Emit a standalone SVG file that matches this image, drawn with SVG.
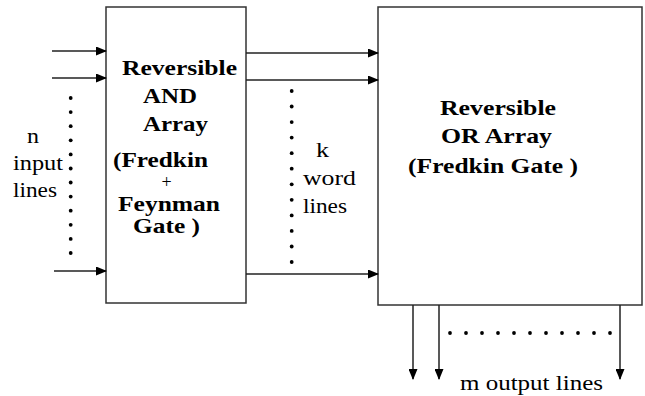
<svg xmlns="http://www.w3.org/2000/svg" width="645" height="396" viewBox="0 0 645 396">
<style>
.box{fill:#fff;stroke:#333;stroke-width:1.5}
.ln{stroke:#222;stroke-width:1.5;fill:none;marker-end:url(#ah)}
.dot{fill:#000}
</style>
<defs>
<marker id="ah" markerUnits="userSpaceOnUse" markerWidth="11" markerHeight="9" refX="10" refY="4.5" orient="auto">
<path d="M0,0 L11,4.5 L0,9 z" fill="#000"/>
</marker>
<circle id="d" r="1.9" class="dot"/>
</defs>
<rect width="645" height="396" fill="#fff"/>
<g id="and-array" font-family="Liberation Serif, DejaVu Serif, serif" font-size="22" fill="#000">
<rect class="box" x="106" y="7" width="140" height="296"/>
<g font-weight="bold">
<text x="122" y="75" textLength="115" lengthAdjust="spacingAndGlyphs">Reversible</text>
<text x="143" y="103" textLength="54" lengthAdjust="spacingAndGlyphs">AND</text>
<text x="143" y="131" textLength="65" lengthAdjust="spacingAndGlyphs">Array</text>
<text x="113" y="167" textLength="95" lengthAdjust="spacingAndGlyphs">(Fredkin</text>
<text x="118" y="211" textLength="102" lengthAdjust="spacingAndGlyphs">Feynman</text>
<text x="133" y="233" font-size="21" textLength="67" lengthAdjust="spacingAndGlyphs">Gate )</text>
</g>
<text x="166.7" y="188" font-size="18" text-anchor="middle">+</text>
</g>
<g id="or-array" font-family="Liberation Serif, DejaVu Serif, serif" font-size="22" font-weight="bold" fill="#000">
<rect class="box" x="378" y="7" width="264" height="298"/>
<text x="440" y="115" textLength="116" lengthAdjust="spacingAndGlyphs">Reversible</text>
<text x="441" y="143" textLength="111" lengthAdjust="spacingAndGlyphs">OR Array</text>
<text x="408" y="173" textLength="170" lengthAdjust="spacingAndGlyphs">(Fredkin Gate )</text>
</g>
<g id="input-label" font-family="Liberation Serif, DejaVu Serif, serif" font-size="22" fill="#000">
<text x="27" y="143" textLength="12" lengthAdjust="spacingAndGlyphs">n</text>
<text x="13" y="170" textLength="50" lengthAdjust="spacingAndGlyphs">input</text>
<text x="13" y="197" textLength="44" lengthAdjust="spacingAndGlyphs">lines</text>
</g>
<g id="word-label" font-family="Liberation Serif, DejaVu Serif, serif" font-size="22" fill="#000">
<text x="316" y="157" textLength="13" lengthAdjust="spacingAndGlyphs">k</text>
<text x="303" y="185" textLength="53" lengthAdjust="spacingAndGlyphs">word</text>
<text x="303" y="213" textLength="44" lengthAdjust="spacingAndGlyphs">lines</text>
</g>
<g id="output-label" font-family="Liberation Serif, DejaVu Serif, serif" font-size="22" fill="#000">
<text x="460" y="390" textLength="143" lengthAdjust="spacingAndGlyphs">m output lines</text>
</g>
<g id="connectors">
<line class="ln" x1="52" y1="51" x2="106" y2="51"/>
<line class="ln" x1="52" y1="78" x2="106" y2="78"/>
<line class="ln" x1="54" y1="271" x2="106" y2="271"/>
<line class="ln" x1="246" y1="53" x2="378" y2="53"/>
<line class="ln" x1="246" y1="80" x2="378" y2="80"/>
<line class="ln" x1="246" y1="274" x2="378" y2="274"/>
<line class="ln" x1="413" y1="305" x2="413" y2="379"/>
<line class="ln" x1="439" y1="305" x2="439" y2="379"/>
<line class="ln" x1="620" y1="305" x2="620" y2="379"/>
</g>
<g id="dots">
<use href="#d" x="70.7" y="98"/><use href="#d" x="70.7" y="112.1"/><use href="#d" x="70.7" y="126.2"/><use href="#d" x="70.7" y="140.3"/><use href="#d" x="70.7" y="154.4"/><use href="#d" x="70.7" y="168.5"/><use href="#d" x="70.7" y="182.5"/><use href="#d" x="70.7" y="196.6"/><use href="#d" x="70.7" y="210.7"/><use href="#d" x="70.7" y="224.8"/><use href="#d" x="70.7" y="238.9"/><use href="#d" x="70.7" y="253"/>
<use href="#d" x="291.7" y="91"/><use href="#d" x="291.7" y="106.5"/><use href="#d" x="291.7" y="122.1"/><use href="#d" x="291.7" y="137.6"/><use href="#d" x="291.7" y="153.2"/><use href="#d" x="291.7" y="168.7"/><use href="#d" x="291.7" y="184.3"/><use href="#d" x="291.7" y="199.8"/><use href="#d" x="291.7" y="215.4"/><use href="#d" x="291.7" y="230.9"/><use href="#d" x="291.7" y="246.5"/><use href="#d" x="291.7" y="262"/>
<use href="#d" x="450" y="333"/><use href="#d" x="466" y="333"/><use href="#d" x="482" y="333"/><use href="#d" x="498" y="333"/><use href="#d" x="514" y="333"/><use href="#d" x="530" y="333"/><use href="#d" x="546" y="333"/><use href="#d" x="562" y="333"/><use href="#d" x="578" y="333"/><use href="#d" x="594" y="333"/><use href="#d" x="610" y="333"/>
</g>
</svg>
